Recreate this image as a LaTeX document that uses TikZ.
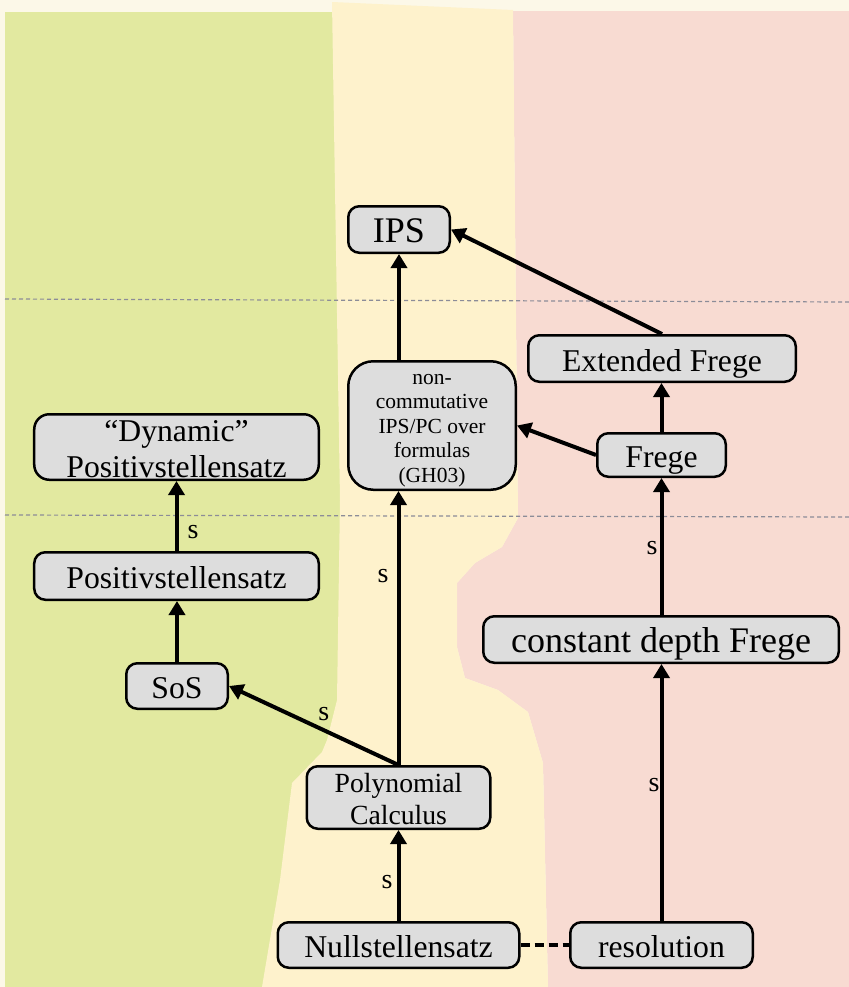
\documentclass[tikz,border=0pt]{standalone}
\usepackage{fontspec}
\setmainfont{Liberation Serif}
\usetikzlibrary{arrows.meta}
\definecolor{bgcream}{RGB}{252,248,232}
\definecolor{zonegreen}{RGB}{226,233,160}
\definecolor{zoneyellow}{RGB}{254,242,204}
\definecolor{zonepink}{RGB}{248,219,210}
\definecolor{boxgray}{RGB}{221,221,221}
\definecolor{guidegray}{RGB}{140,140,152}
\newcommand{\fsz}[2]{\fontsize{#1bp}{#2bp}\selectfont}
\begin{document}
\begin{tikzpicture}[x=1bp,y=-1bp,
  stepbox/.style={draw=black, line width=2.5bp, fill=boxgray, rounded corners=11bp,
                  inner sep=0pt, align=center, font=\fsz{31.7}{35}},
  oneline/.style={text height=31bp, text depth=6bp},
  bigline/.style={font=\fsz{36}{38}, text height=32bp, text depth=6bp},
  link/.style={line width=4bp, -{Triangle[length=14bp,width=16bp]}},
  slabel/.style={font=\fsz{28}{30}, inner sep=0pt},
  guide/.style={guidegray, line width=1.2bp, dash pattern=on 4bp off 3bp}
]
\useasboundingbox (0,0) rectangle (849,987);

% background zones
\fill[bgcream] (0,0) rectangle (849,987);
\fill[zonegreen] (5,12) rectangle (420,987);
\fill[zonepink] (513,11) -- (849,11) -- (849,987) -- (548,987) -- (543,763)
  -- (528,712) -- (498,690) -- (465,678) -- (457,647) -- (457,583) -- (475,563)
  -- (502,547) -- (518,518) -- cycle;
\fill[zoneyellow] (332,2) -- (513,10) -- (518,518) -- (502,547) -- (475,563)
  -- (457,583) -- (457,647) -- (465,678) -- (498,690) -- (528,712) -- (543,763)
  -- (548,987) -- (262,987) -- (280,880) -- (292,783) -- (322,752) -- (327,740)
  -- (337,700) -- (340,500) -- cycle;

% level separators
\draw[guide] (5,299) -- (849,302);
\draw[guide] (5,515) -- (849,517);

% proof systems
\node[stepbox, bigline, minimum width=101.5bp, minimum height=46.5bp] (ips) at (399,229.5) {IPS};
\node[stepbox, oneline, minimum width=267.5bp, minimum height=46.5bp] (ext) at (662,358.5) {Extended Frege};
\node[stepbox, font=\fsz{21.5}{24.5}, text height=113bp, text depth=0bp, rounded corners=25bp,
      minimum width=167.5bp, minimum height=128.5bp] (nc) at (432,425.5)
  {non-\\commutative\\IPS/PC over\\formulas\\(GH03)};
\node[stepbox, font=\fsz{31.7}{36}, text height=60bp, text depth=0bp, rounded corners=15bp,
      minimum width=284.5bp, minimum height=65.5bp] (dyn) at (176.5,447)
  {“Dynamic”\\Positivstellensatz};
\node[stepbox, oneline, minimum width=128.5bp, minimum height=43.5bp] (frege) at (661.5,455) {Frege};
\node[stepbox, oneline, minimum width=284.5bp, minimum height=47.5bp] (pos) at (176.5,576) {Positivstellensatz};
\node[stepbox, bigline, minimum width=355.5bp, minimum height=46.5bp] (cdf) at (661,639.5) {constant depth Frege};
\node[stepbox, oneline, minimum width=101.5bp, minimum height=45.5bp] (sos) at (177,686) {SoS};
\node[stepbox, font=\fsz{27.7}{32}, text height=53bp, text depth=0bp,
      minimum width=183.5bp, minimum height=62.5bp] (pc) at (398.5,797.5)
  {Polynomial\\Calculus};
\node[stepbox, oneline, minimum width=241.5bp, minimum height=45.5bp] (null) at (398.5,945) {Nullstellensatz};
\node[stepbox, oneline, minimum width=182.5bp, minimum height=45.5bp] (res) at (661.5,945) {resolution};

% simulations
\draw[link] (null.north) -- (pc.south)
  node[slabel, pos=.43, left=4bp] {s};
\draw[link] (pc.north) -- (sos.east)
  node[slabel, pos=.44, above=7bp] {s};
\draw[link] (pc.north) -- (pc.north |- nc.south)
  node[slabel, pos=.69, left=8bp] {s};
\draw[link] (ips.south |- nc.north) -- (ips.south);
\draw[link] (sos.north) -- (sos.north |- pos.south);
\draw[link] (pos.north) -- (dyn.south)
  node[slabel, pos=.27, right=9bp] {s};
\draw[link] (res.north) -- (res.north |- cdf.south)
  node[slabel, pos=.53, left=0bp] {s};
\draw[link] (cdf.north -| frege.south) -- (frege.south)
  node[slabel, pos=.49, left=2bp] {s};
\draw[link] (frege.west) -- (nc.east);
\draw[link] (frege.north) -- (frege.north |- ext.south);
\draw[link] (ext.north) -- (ips.east);
\draw[line width=4bp, dash pattern=on 9bp off 5bp] (null.east) -- (res.west);
\end{tikzpicture}
\end{document}
